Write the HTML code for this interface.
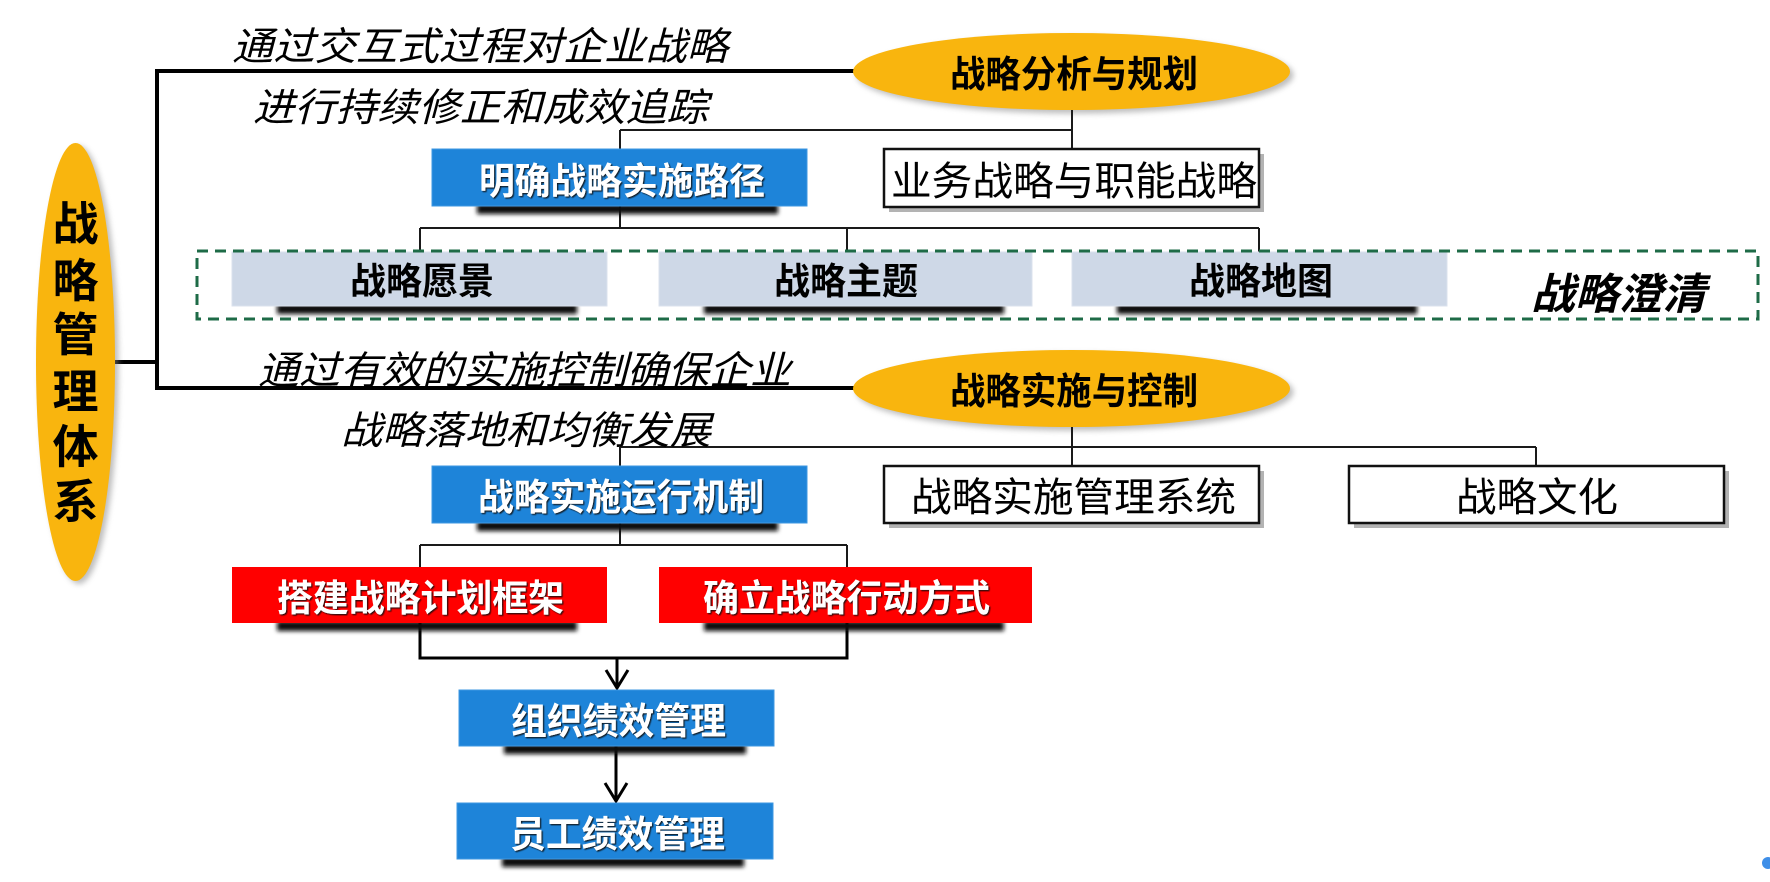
<!DOCTYPE html>
<html><head><meta charset="utf-8"><style>
html,body{margin:0;padding:0;background:#fff;}
svg{display:block;}
text{font-family:"Liberation Sans","Noto Sans CJK SC",sans-serif;}
.b{font-weight:bold;}
.it{font-style:italic;}
</style></head><body>
<svg width="1770" height="882" viewBox="0 0 1770 882" xmlns="http://www.w3.org/2000/svg">
<defs>
<filter id="sh" x="-20%" y="-200%" width="140%" height="500%"><feGaussianBlur stdDeviation="2"/></filter>
<filter id="es" x="-20%" y="-20%" width="140%" height="140%"><feGaussianBlur stdDeviation="3"/></filter>
<filter id="ts" x="-5%" y="-20%" width="110%" height="140%"><feDropShadow dx="1.2" dy="1.2" stdDeviation="0.5" flood-color="#111" flood-opacity="0.9"/></filter>
</defs>
<rect width="1770" height="882" fill="#fff"/>

<!-- thick main bracket lines -->
<g stroke="#000" stroke-width="4" fill="none">
<path d="M157 71 H870"/>
<path d="M157 69 V390"/>
<path d="M157 388 H870"/>
<path d="M113 362 H157"/>
</g>

<!-- ellipse shadows -->
<ellipse cx="79" cy="365" rx="39.5" ry="219" fill="#888" opacity="0.55" filter="url(#es)"/>
<ellipse cx="1075" cy="75" rx="218.5" ry="38.5" fill="#888" opacity="0.55" filter="url(#es)"/>
<ellipse cx="1075" cy="392" rx="218.5" ry="38.5" fill="#888" opacity="0.55" filter="url(#es)"/>

<!-- ellipses -->
<ellipse cx="75.5" cy="362" rx="39.5" ry="219" fill="#F9B50E"/>
<ellipse cx="1071.5" cy="71.5" rx="218.5" ry="38.5" fill="#F9B50E"/>
<ellipse cx="1071.5" cy="388.5" rx="218.5" ry="38.5" fill="#F9B50E"/>

<!-- thin connectors -->
<g stroke="#1a1a1a" stroke-width="2" fill="none">
<path d="M1072 110 V149"/>
<path d="M620 130 H1072"/>
<path d="M620 130 V149"/>
<path d="M620 206 V228"/>
<path d="M420 228 H1259"/>
<path d="M420 228 V252 M847 228 V252 M1259 228 V252"/>
<path d="M1072 427 V466"/>
<path d="M620 447 H1536"/>
<path d="M620 447 V466 M1536 447 V466"/>
<path d="M620 523 V545"/>
<path d="M420 545 H847"/>
<path d="M420 545 V567 M847 545 V567"/>
</g>
<g stroke="#000" stroke-width="3" fill="none">
<path d="M420 623 V658 H847 V623"/>
<path d="M617 658 V688"/>
<polyline points="606,670 617,688 628,670"/>
<path d="M616 746 V801"/>
<polyline points="605,783 616,801 627,783"/>
</g>

<!-- box shadows (dark, blurred) -->
<g fill="#111" filter="url(#sh)">
<rect x="477" y="204" width="301" height="10"/>
<rect x="277" y="304" width="300" height="10"/>
<rect x="704" y="304" width="300" height="10"/>
<rect x="1117" y="304" width="300" height="10"/>
<rect x="477" y="521" width="301" height="10"/>
<rect x="277" y="621" width="300" height="10"/>
<rect x="704" y="621" width="300" height="10"/>
<rect x="504" y="744" width="242" height="10"/>
<rect x="502" y="857" width="242" height="10"/>
</g>

<!-- white boxes shadows -->
<g fill="#b3b3b3">
<rect x="889" y="154" width="375" height="58"/>
<rect x="889" y="471" width="375" height="57"/>
<rect x="1354" y="471" width="375" height="57"/>
</g>

<!-- blue boxes -->
<g fill="#1E84D9" stroke="#3d97e2" stroke-width="1">
<rect x="432" y="149" width="375" height="57"/>
<rect x="432" y="466" width="375" height="57"/>
<rect x="459" y="690" width="315" height="56"/>
<rect x="457" y="803" width="316" height="56"/>
</g>
<!-- red boxes -->
<g fill="#FF0000">
<rect x="232" y="567" width="375" height="56"/>
<rect x="659" y="567" width="373" height="56"/>
</g>
<!-- gray boxes -->
<g fill="#CED8E7" stroke="#dbe2ee" stroke-width="1">
<rect x="232" y="252" width="375" height="54"/>
<rect x="659" y="252" width="373" height="54"/>
<rect x="1072" y="252" width="375" height="54"/>
</g>
<!-- white boxes -->
<g fill="#fff" stroke="#111" stroke-width="2.5">
<rect x="884" y="149" width="375" height="58"/>
<rect x="884" y="466" width="375" height="57"/>
<rect x="1349" y="466" width="375" height="57"/>
</g>

<!-- dashed clarification frame -->
<rect x="197" y="251" width="1561" height="68" fill="none" stroke="#1E6B47" stroke-width="3" stroke-dasharray="11 7"/>

<!-- italic annotation text -->
<g fill="#000" font-size="39" class="it">
<text class="it" x="232" y="60" textLength="496" lengthAdjust="spacingAndGlyphs">通过交互式过程对企业战略</text>
<text class="it" x="253" y="121" textLength="455" lengthAdjust="spacingAndGlyphs">进行持续修正和成效追踪</text>
<text class="it" x="258" y="384" textLength="533" lengthAdjust="spacingAndGlyphs">通过有效的实施控制确保企业</text>
<text class="it" x="341" y="444" textLength="370" lengthAdjust="spacingAndGlyphs">战略落地和均衡发展</text>
</g>

<!-- ellipse labels -->
<g fill="#000" class="b" font-size="37" font-weight="bold">
<text x="950" y="87" textLength="248" lengthAdjust="spacingAndGlyphs">战略分析与规划</text>
<text x="950" y="404" textLength="248" lengthAdjust="spacingAndGlyphs">战略实施与控制</text>
</g>
<g fill="#000" font-size="46" font-weight="bold" text-anchor="middle">
<text x="75.5" y="240">战</text>
<text x="75.5" y="297">略</text>
<text x="75.5" y="351">管</text>
<text x="75.5" y="408">理</text>
<text x="75.5" y="463">体</text>
<text x="75.5" y="518">系</text>
</g>

<!-- white bold labels -->
<g fill="#fff" font-size="37" font-weight="bold" filter="url(#ts)">
<text x="479" y="194" textLength="286" lengthAdjust="spacingAndGlyphs">明确战略实施路径</text>
<text x="478" y="510" textLength="286" lengthAdjust="spacingAndGlyphs">战略实施运行机制</text>
<text x="277" y="611" textLength="287" lengthAdjust="spacingAndGlyphs">搭建战略计划框架</text>
<text x="703" y="611" textLength="287" lengthAdjust="spacingAndGlyphs">确立战略行动方式</text>
<text x="511" y="734" textLength="215" lengthAdjust="spacingAndGlyphs">组织绩效管理</text>
<text x="510" y="847" textLength="215" lengthAdjust="spacingAndGlyphs">员工绩效管理</text>
</g>

<!-- gray box labels -->
<g fill="#000" font-size="37" font-weight="bold">
<text x="350" y="294" textLength="144" lengthAdjust="spacingAndGlyphs">战略愿景</text>
<text x="774" y="294" textLength="144" lengthAdjust="spacingAndGlyphs">战略主题</text>
<text x="1189" y="294" textLength="144" lengthAdjust="spacingAndGlyphs">战略地图</text>
<text x="1531" y="309" font-size="43" font-style="italic" textLength="175" lengthAdjust="spacingAndGlyphs">战略澄清</text>
</g>

<!-- white box labels -->
<g fill="#000" font-size="40">
<text x="891" y="195" textLength="366" lengthAdjust="spacingAndGlyphs">业务战略与职能战略</text>
<text x="911" y="511" textLength="325" lengthAdjust="spacingAndGlyphs">战略实施管理系统</text>
<text x="1456" y="511" textLength="162" lengthAdjust="spacingAndGlyphs">战略文化</text>
</g>

<!-- small blue mark bottom-right -->
<circle cx="1768" cy="863" r="6" fill="#3f8fe8"/>
</svg>
</body></html>
